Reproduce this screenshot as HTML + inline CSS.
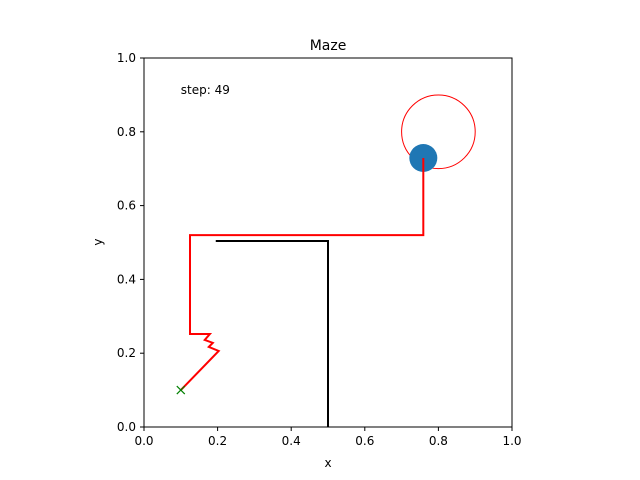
<!DOCTYPE html>
<html><head><meta charset="utf-8">
<style>body{margin:0;background:#fff}svg{display:block;font-family:"DejaVu Sans","Liberation Sans",sans-serif}</style>
</head><body>
<svg id="chart" width="640" height="480" xmlns="http://www.w3.org/2000/svg"></svg>
<script>
const ticks=[0,0.2,0.4,0.6,0.8,1.0];
const tickLabels=["0.0","0.2","0.4","0.6","0.8","1.0"];
const pathX=[0.1,0.203,0.176,0.187,0.165,0.179,0.125,0.125,0.759,0.759];
const pathY=[0.1,0.206,0.217,0.228,0.236,0.252,0.252,0.52,0.52,0.729];
const wallX=[0.195,0.5,0.5];
const wallY=[0.504,0.504,0];
const goal=[0.8,0.8,0.1];
const agent=[0.759,0.729];
const start=[0.1,0.1];
const stepText="step: 49";
const L=144,R=512,T=58,B=427;
const sx=v=>L+v*(R-L), sy=v=>B-v*(B-T);
const svg=document.getElementById('chart');
const NS="http://www.w3.org/2000/svg";
function mk(tag,attrs,name,parent){const e=document.createElementNS(NS,tag);for(const k in attrs)e.setAttribute(k,attrs[k]);


(parent||svg).appendChild(e);return e;}
mk('text',{x:328,y:50,'text-anchor':'middle','font-size':14},'chart-title').textContent='Maze';
ticks.forEach((t,i)=>{
 mk('line',{x1:sx(t),x2:sx(t),y1:B,y2:B+4,stroke:'#000'},'x-tick');
 mk('text',{x:sx(t),y:B+18,'text-anchor':'middle','font-size':12},'x-tick-label').textContent=tickLabels[i];
 mk('line',{x1:L-4,x2:L,y1:sy(t),y2:sy(t),stroke:'#000'},'y-tick');
 mk('text',{x:L-8,y:sy(t)+4,'text-anchor':'end','font-size':12},'y-tick-label').textContent=tickLabels[i];
});
mk('text',{x:328,y:467,'text-anchor':'middle','font-size':12},'x-axis-title').textContent='x';
mk('text',{x:102,y:242,'text-anchor':'middle','font-size':12,transform:'rotate(-90 102 242)'},'y-axis-title').textContent='y';
mk('text',{x:sx(0.1),y:sy(0.9)-1,'font-size':12},'step-label').textContent=stepText;
mk('polyline',{points:wallX.map((x,i)=>sx(x)+','+sy(wallY[i])).join(' '),fill:'none',stroke:'#000','stroke-width':2},'maze-wall');
mk('circle',{cx:sx(goal[0]),cy:sy(goal[1]),r:goal[2]*(R-L),fill:'none',stroke:'#ff0000','stroke-width':1},'goal-circle');
mk('circle',{cx:sx(agent[0]),cy:sy(agent[1]),r:14,fill:'#1f77b4'},'agent-marker');
mk('polyline',{points:pathX.map((x,i)=>sx(x)+','+sy(pathY[i])).join(' '),fill:'none',stroke:'#ff0000','stroke-width':2},'agent-path');
const g=mk('g',{stroke:'#008000','stroke-width':1.2},'start-marker');
mk('line',{x1:sx(start[0])-4,y1:sy(start[1])-4,x2:sx(start[0])+4,y2:sy(start[1])+4},'start-x1',g);
mk('line',{x1:sx(start[0])-4,y1:sy(start[1])+4,x2:sx(start[0])+4,y2:sy(start[1])-4},'start-x2',g);
mk('rect',{x:L,y:T,width:R-L,height:B-T,fill:'none',stroke:'#000','stroke-width':1},'plot-frame');
</script>
</body></html>
